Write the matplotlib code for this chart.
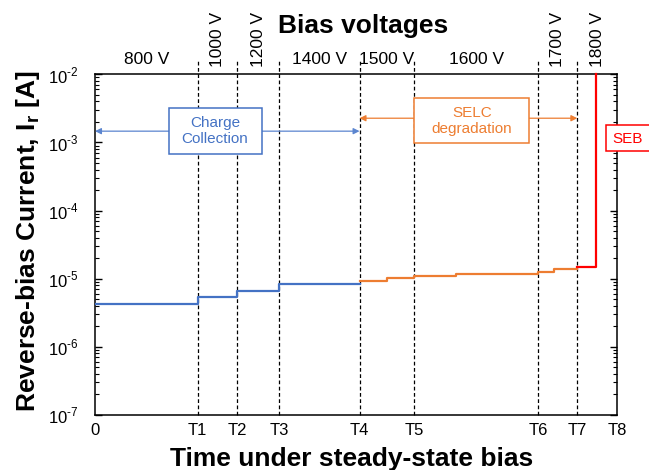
import matplotlib
matplotlib.use('Agg')
import matplotlib.pyplot as plt
import matplotlib.transforms as mtransforms
from matplotlib.patches import Rectangle
from matplotlib.ticker import LogLocator, NullFormatter, FuncFormatter
import numpy as np

plt.rcParams['font.family'] = ['Liberation Sans', 'DejaVu Sans']
plt.rcParams['mathtext.fontset'] = 'custom'
plt.rcParams['mathtext.rm'] = 'Liberation Sans'
plt.rcParams['mathtext.bf'] = 'Liberation Sans:bold'

# time axis (arbitrary units), T-marks
t_ticks = [0, 1.574, 2.181, 2.820, 4.054, 4.894, 6.790, 7.392, 8.0]
t_labels = ['0', 'T1', 'T2', 'T3', 'T4', 'T5', 'T6', 'T7', 'T8']

# bias voltage of each interval
volt_labels = ['800 V', '1000 V', '1200 V', '1400 V', '1500 V', '1600 V', '1700 V', '1800 V']
volt_rotated = [False, True, True, False, False, False, True, True]

# reverse-bias current steps
blue_t = [0, 1.574, 2.181, 2.820, 4.054]
blue_i = [4.26e-6, 5.33e-6, 6.6e-6, 8.4e-6]
orange_t = [4.054, 4.475, 4.894, 5.533, 6.790, 7.034, 7.392]
orange_i = [9.35e-6, 1.01e-5, 1.10e-5, 1.17e-5, 1.25e-5, 1.39e-5]
red_t = [7.392, 7.673, 7.673]
red_i = [1.50e-5, 1.50e-5, 1e-2]

blue = '#4472C4'
orange = '#ED7D31'
red = '#FF0000'

fig = plt.figure(figsize=(6.49, 4.70), dpi=100)
ax = fig.add_axes([0.1464, 0.117, 0.8043, 0.725])

ax.step(blue_t, blue_i + [blue_i[-1]], where='post', color=blue, lw=1.6, zorder=3)
ax.step(orange_t, orange_i + [orange_i[-1]], where='post', color=orange, lw=1.6, zorder=3)
ax.plot(red_t, red_i, color=red, lw=1.6, zorder=3, clip_on=False)

ax.set_yscale('log')
ax.set_ylim(1e-7, 1e-2)
ax.set_xlim(t_ticks[0], t_ticks[-1])

# dashed lines at T1..T7, running above the frame
for t in t_ticks[1:-1]:
    ax.axvline(t, ymin=0, ymax=1.044, color='black', lw=0.9, ls=(0, (3, 2)),
               clip_on=False, zorder=2)

ax.set_xticks(t_ticks)
ax.set_xticklabels(t_labels)
ax.tick_params(axis='x', length=0, pad=6, labelsize=12)


def exp_fmt(v, pos):
    e = int(round(np.log10(v)))
    return r'$10^{\text{-%d}}$' % (-e)


ax.yaxis.set_major_locator(LogLocator(base=10, numticks=10))
ax.yaxis.set_major_formatter(FuncFormatter(exp_fmt))
ax.yaxis.set_minor_locator(LogLocator(base=10, subs=range(2, 10), numticks=20))
ax.yaxis.set_minor_formatter(NullFormatter())
ax.tick_params(axis='y', which='both', direction='in', left=True, right=True,
               labelsize=12, pad=12)
ax.tick_params(axis='y', which='major', length=5, width=1)
ax.tick_params(axis='y', which='minor', length=3, width=0.8)
for s in ax.spines.values():
    s.set_linewidth(1.1)

ax.set_xlabel('Time under steady-state bias', fontsize=19, fontweight='bold')
ax.xaxis.set_label_coords(0.492, -0.094)
ax.set_ylabel(r'Reverse-bias Current, I$_\mathbf{r}$ [A]', fontsize=19, fontweight='bold')
ax.yaxis.set_label_coords(-0.102, 0.51)

# voltage labels above each interval
trans = mtransforms.blended_transform_factory(ax.transData, ax.transAxes)
for k, lab in enumerate(volt_labels):
    xm = (t_ticks[k] + t_ticks[k + 1]) / 2
    if volt_rotated[k]:
        ax.text(xm, 1.021, lab, rotation=90, ha='center', va='bottom',
                fontsize=12.5, transform=trans)
    else:
        ax.text(xm, 1.031, lab, ha='center', va='baseline', fontsize=12.5,
                transform=trans)
fig.text(0.56, 0.930, 'Bias voltages', fontsize=19, fontweight='bold',
         ha='center', va='baseline')

# Charge Collection arrow + box
ax.annotate('', xy=(t_ticks[0], 0.833), xytext=(t_ticks[4], 0.833), xycoords=trans,
            arrowprops=dict(arrowstyle='<|-|>', color='#5B85CF', lw=0.9,
                            mutation_scale=9, shrinkA=0, shrinkB=0))
ax.add_patch(Rectangle((0.141, 0.765), 0.178, 0.135, transform=ax.transAxes,
                       facecolor='white', edgecolor=blue, lw=1.1, zorder=4))
ax.text(0.230, 0.833, 'Charge\nCollection', color=blue, fontsize=11, ha='center',
        va='center', transform=ax.transAxes, zorder=5, linespacing=1.15)

# SELC degradation arrow + box
ax.annotate('', xy=(t_ticks[4], 0.871), xytext=(t_ticks[7], 0.871), xycoords=trans,
            arrowprops=dict(arrowstyle='<|-|>', color=orange, lw=0.9,
                            mutation_scale=9, shrinkA=0, shrinkB=0))
ax.add_patch(Rectangle((0.612, 0.797), 0.220, 0.133, transform=ax.transAxes,
                       facecolor='white', edgecolor=orange, lw=1.1, zorder=4))
ax.text(0.722, 0.863, 'SELC\ndegradation', color=orange, fontsize=11, ha='center',
        va='center', transform=ax.transAxes, zorder=5, linespacing=1.15)

# SEB box (runs off the right edge)
ax.add_patch(Rectangle((0.978, 0.775), 0.2, 0.075, transform=ax.transAxes,
                       facecolor='white', edgecolor=red, lw=1.1, zorder=4, clip_on=False))
ax.text(1.021, 0.811, 'SEB', color=red, fontsize=11, ha='center', va='center',
        transform=ax.transAxes, zorder=5)

fig.savefig('out.png', dpi=100)
